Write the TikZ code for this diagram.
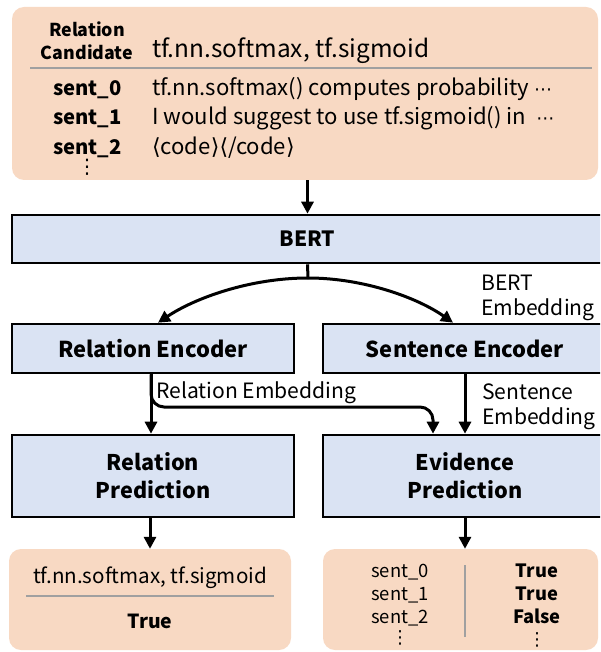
\documentclass[tikz,border=0pt]{standalone}
\usepackage{fontspec}
\setmainfont{Noto Sans CJK KR}
\newfontfamily\symf{DejaVu Sans}
\usetikzlibrary{arrows.meta}
\definecolor{peach}{HTML}{F8D9C3}
\definecolor{lblue}{HTML}{DAE3F3}
\definecolor{sepgrey}{HTML}{A0A0A0}
\newcommand{\fs}[2]{\fontsize{#1}{#2}\selectfont}
\tikzset{
  peachbox/.style={fill=peach, rounded corners=12pt, draw=none, inner sep=0pt},
  bluebox/.style={fill=lblue, draw=black, line width=2.6pt, inner sep=0pt, align=center},
  arr/.style={line width=3pt, -{Triangle[length=12pt,width=12pt]}},
  plainline/.style={line width=3pt},
  sepline/.style={draw=sepgrey, line width=1.4pt},
  lbl/.style={inner sep=0pt, anchor=base},
  lblw/.style={inner sep=0pt, anchor=base west},
}
\begin{document}
\begin{tikzpicture}[x=1pt,y=-1pt]
\useasboundingbox (0,0) rectangle (600,652);
\clip (0,0) rectangle (600,652);

% ---------- top input box ----------
\node[peachbox, minimum width=586pt, minimum height=173pt] (top) at (305,93.5) {};
\node[inner sep=0pt, align=center, font=\bfseries\fs{17.8}{23}] (relcand) at (87,40.5) {Relation\\Candidate};
\node[lblw, font=\fs{24.4}{28}] (candtext) at (152,58) {tf.nn.softmax, tf.sigmoid};
\draw[sepline] (30,68) -- (592,68);
\node[lbl, font=\bfseries\fs{20.2}{24}] (s0) at (87.5,96) {sent\_0};
\node[lbl, font=\bfseries\fs{20.2}{24}] (s1) at (87.5,125) {sent\_1};
\node[lbl, font=\bfseries\fs{20.2}{24}] (s2) at (87.5,155) {sent\_2};
\node[inner sep=0pt, font=\symf\fs{20}{22}] (sdots) at (87,167) {⋮};
\node[lblw, font=\fs{22.1}{26}] (t0) at (152,96) {tf.nn.softmax() computes probability {\symf\fs{18}{20}⋯}};
\node[lblw, font=\fs{22.1}{26}] (t1) at (152,125) {I would suggest to use tf.sigmoid() in \hspace{5pt}{\symf\fs{18}{20}⋯}};
\node[lblw, font=\fs{22.1}{26}] (t2) at (152,155) {{\symf⟨}code{\symf⟩}{\symf⟨}/code{\symf⟩}};

% ---------- BERT ----------
\node[bluebox, minimum width=591pt, minimum height=48pt, font=\bfseries\fs{21}{25}] (bert) at (307.5,239) {BERT};
\draw[arr] (top.south -| bert.north) -- (bert.north);

% ---------- encoders ----------
\node[bluebox, minimum width=282pt, minimum height=49pt, font=\bfseries\fs{21.9}{25}] (relenc) at (153,348.5) {Relation Encoder};
\node[bluebox, minimum width=284pt, minimum height=49pt, font=\bfseries\fs{21.9}{25}] (sentenc) at (465,348.5) {Sentence Encoder};

\coordinate (split) at (308,278);
\draw[plainline] (bert.south) -- (split);
\draw[arr] (split) .. controls (250,278) and (195,298) .. ([xshift=5pt]relenc.north);
\draw[arr] (split) .. controls (364,278) and (418,298) .. ([xshift=-12pt]sentenc.north);
\node[inner sep=0pt, anchor=west, align=left, font=\fs{21.1}{25}] (bertemb) at (481,298) {BERT\\Embedding};

% ---------- predictions ----------
\node[bluebox, minimum width=282pt, minimum height=82pt, font=\bfseries\fs{21.6}{28}] (relpred) at (153,476) {Relation\\Prediction};
\node[bluebox, minimum width=284pt, minimum height=82pt, font=\bfseries\fs{21.6}{28}] (evpred) at (465,476) {Evidence\\Prediction};

\draw[arr] ([xshift=-2pt]relenc.south) -- ([xshift=-2pt]relpred.north);
\coordinate (rebend) at (433,407);
\draw[arr, rounded corners=13pt] ([xshift=-2pt]relenc.south) |- (rebend) -- ([xshift=-32pt]evpred.north);
\node[lblw, font=\fs{21.1}{25}] (relemb) at (156,398) {Relation Embedding};
\draw[arr] (sentenc.south) -- (evpred.north);
\node[inner sep=0pt, anchor=west, align=left, font=\fs{21.1}{25}] (sentemb) at (482,407) {Sentence\\Embedding};

% ---------- outputs ----------
\node[peachbox, minimum width=282pt, minimum height=101pt] (resbox) at (150,599.5) {};
\node[peachbox, minimum width=275pt, minimum height=101pt] (evbox) at (460.5,599.5) {};
\draw[arr] (relpred.south -| resbox.north) -- (resbox.north);
\draw[arr] (evpred.south) -- (evpred.south |- evbox.north);

\node[lbl, font=\fs{20.6}{24}] (restext) at (150,583) {tf.nn.softmax, tf.sigmoid};
\draw[sepline] (26,596) -- (274,596);
\node[lbl, font=\bfseries\fs{19.4}{24}] (restrue) at (150,628) {True};

\draw[sepline] (465,565) -- (465,637);
\node[lbl, font=\fs{18.4}{22}] (e0) at (400,577) {sent\_0};
\node[lbl, font=\fs{18.4}{22}] (e1) at (400,600) {sent\_1};
\node[lbl, font=\fs{18.4}{22}] (e2) at (400,623) {sent\_2};
\node[inner sep=0pt, font=\symf\fs{18}{20}] (edots) at (400,638) {⋮};
\node[lbl, font=\bfseries\fs{18.3}{22}] (v0) at (537,577) {True};
\node[lbl, font=\bfseries\fs{18.3}{22}] (v1) at (537,600) {True};
\node[lbl, font=\bfseries\fs{18.3}{22}] (v2) at (537,623) {False};
\node[inner sep=0pt, font=\symf\fs{18}{20}] (vdots) at (537,640) {⋮};
\end{tikzpicture}
\end{document}
